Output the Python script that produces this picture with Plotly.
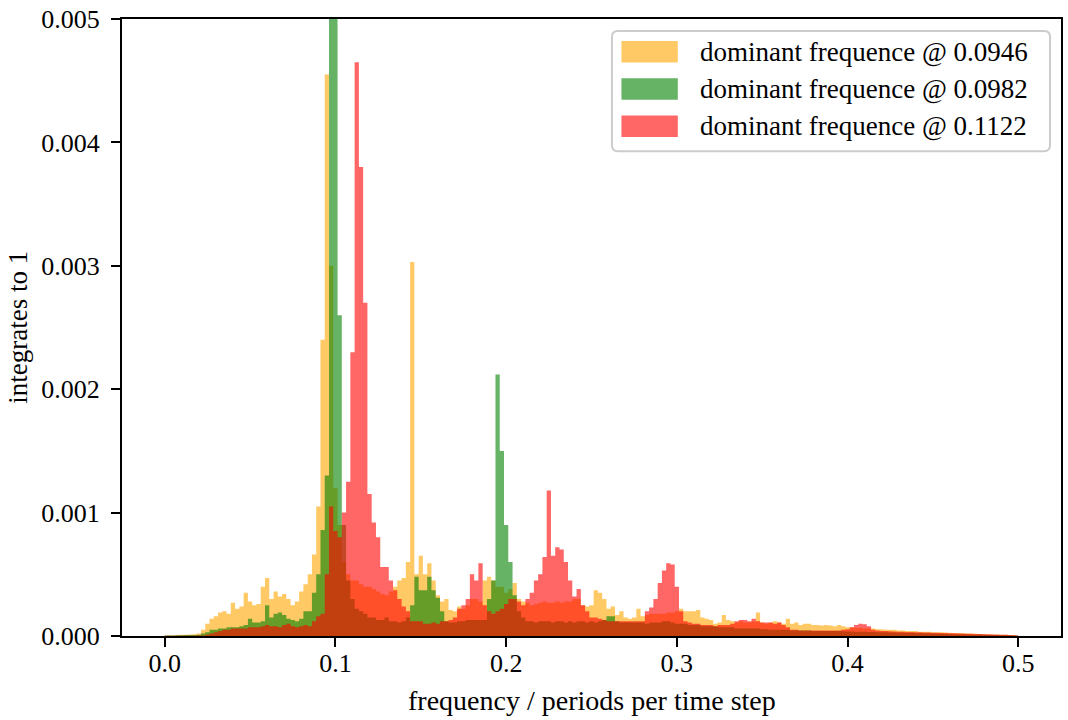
import numpy as np
import plotly.graph_objects as go

# ---------------- data (spectral density, in units of 1e-3) ----------------
FREQ_STEP = 0.0025
freq = np.round(np.arange(201) * FREQ_STEP, 4)   # 0.0 ... 0.5

orange_e3 = [
    0.005, 0.005, 0.005, 0.008, 0.01, 0.01, 0.012, 0.015, 0.02, 0.05,
    0.10, 0.14, 0.16, 0.19, 0.20, 0.18, 0.27, 0.22, 0.24, 0.35,
    0.28, 0.25, 0.26, 0.40, 0.47, 0.30, 0.36, 0.32, 0.34, 0.30,
    0.25, 0.28, 0.36, 0.42, 0.50, 0.66, 1.05, 2.40, 4.55, 3.00,
    1.20, 0.90, 0.60, 0.50, 0.45, 0.45, 0.42, 0.40, 0.40, 0.38,
    0.36, 0.34, 0.33, 0.36, 0.40, 0.45, 0.47, 0.60, 3.03, 0.50,
    0.65, 0.50, 0.59, 0.45, 0.33, 0.28, 0.30, 0.21, 0.20, 0.24,
    0.22, 0.25, 0.30, 0.30, 0.28, 0.45, 0.48, 0.45, 0.40, 0.40,
    0.35, 0.38, 0.43, 0.30, 0.28, 0.27, 0.25, 0.26, 0.27, 0.28,
    0.27, 0.27, 0.28, 0.27, 0.28, 0.28, 0.30, 0.30, 0.25, 0.24,
    0.25, 0.37, 0.35, 0.30, 0.22, 0.24, 0.17, 0.20, 0.15, 0.14,
    0.15, 0.22, 0.16, 0.17, 0.18, 0.18, 0.18, 0.18, 0.19, 0.19,
    0.20, 0.22, 0.20, 0.20, 0.20, 0.21, 0.15, 0.14, 0.13, 0.10,
    0.11, 0.17, 0.13, 0.12, 0.11, 0.12, 0.11, 0.11, 0.12, 0.19,
    0.11, 0.10, 0.11, 0.12, 0.11, 0.10, 0.14, 0.10, 0.11, 0.09,
    0.10, 0.10, 0.09, 0.09, 0.085, 0.09, 0.085, 0.08, 0.09, 0.08,
    0.07, 0.07, 0.065, 0.065, 0.06, 0.06, 0.06, 0.055, 0.055, 0.05,
    0.05, 0.05, 0.045, 0.045, 0.04, 0.04, 0.04, 0.035, 0.035, 0.035,
    0.03, 0.03, 0.03, 0.028, 0.026, 0.025, 0.024, 0.022, 0.02, 0.02,
    0.018, 0.016, 0.015, 0.013, 0.012, 0.011, 0.01, 0.01, 0.008, 0.006,
    0.004,
]

green_e3 = [
    0.005, 0.005, 0.005, 0.006, 0.007, 0.008, 0.008, 0.009, 0.01, 0.02,
    0.03, 0.05, 0.05, 0.06, 0.06, 0.07, 0.07, 0.07, 0.08, 0.09,
    0.14, 0.11, 0.11, 0.12, 0.25, 0.15, 0.18, 0.19, 0.17, 0.14,
    0.13, 0.12, 0.14, 0.20, 0.20, 0.35, 0.50, 0.86, 1.30, 5.60,
    5.60, 2.60, 0.90, 0.45, 0.30, 0.22, 0.20, 0.18, 0.15, 0.15,
    0.13, 0.13, 0.15, 0.12, 0.12, 0.11, 0.12, 0.15, 0.25, 0.48,
    0.37, 0.37, 0.48, 0.37, 0.31, 0.20, 0.12, 0.11, 0.11, 0.12,
    0.12, 0.13, 0.13, 0.13, 0.13, 0.13, 0.30, 0.45, 2.12, 1.50,
    0.90, 0.60, 0.33, 0.20, 0.15, 0.12, 0.12, 0.11, 0.12, 0.12,
    0.12, 0.11, 0.12, 0.12, 0.11, 0.12, 0.11, 0.12, 0.12, 0.11,
    0.12, 0.11, 0.12, 0.13, 0.16, 0.16, 0.12, 0.11, 0.11, 0.11,
    0.11, 0.11, 0.11, 0.10, 0.11, 0.11, 0.11, 0.12, 0.12, 0.11,
    0.10, 0.10, 0.10, 0.09, 0.09, 0.09, 0.08, 0.08, 0.08, 0.08,
    0.07, 0.07, 0.07, 0.07, 0.06, 0.06, 0.06, 0.06, 0.06, 0.06,
    0.055, 0.055, 0.05, 0.05, 0.05, 0.05, 0.05, 0.045, 0.045, 0.045,
    0.045, 0.045, 0.04, 0.04, 0.04, 0.04, 0.04, 0.04, 0.04, 0.038,
    0.037, 0.036, 0.035, 0.035, 0.034, 0.033, 0.032, 0.031, 0.03, 0.03,
    0.029, 0.028, 0.027, 0.026, 0.025, 0.025, 0.024, 0.023, 0.022, 0.021,
    0.02, 0.019, 0.018, 0.017, 0.016, 0.015, 0.014, 0.013, 0.012, 0.011,
    0.011, 0.01, 0.01, 0.009, 0.008, 0.008, 0.007, 0.006, 0.005, 0.004,
    0.003,
]

red_e3 = [
    0.003, 0.003, 0.003, 0.003, 0.003, 0.003, 0.003, 0.003, 0.004, 0.005,
    0.01, 0.02, 0.03, 0.04, 0.05, 0.05, 0.06, 0.06, 0.06, 0.06,
    0.07, 0.07, 0.07, 0.08, 0.09, 0.08, 0.08, 0.07, 0.09, 0.10,
    0.08, 0.07, 0.08, 0.09, 0.08, 0.12, 0.16, 0.18, 0.50, 1.05,
    0.85, 0.80, 1.00, 1.25, 2.30, 4.65, 3.80, 2.70, 1.15, 0.92,
    0.80, 0.56, 0.56, 0.45, 0.37, 0.30, 0.24, 0.20, 0.12, 0.12,
    0.12, 0.10, 0.10, 0.11, 0.10, 0.12, 0.12, 0.13, 0.15, 0.22,
    0.25, 0.30, 0.50, 0.45, 0.59, 0.25, 0.20, 0.18, 0.20, 0.22,
    0.26, 0.30, 0.30, 0.28, 0.25, 0.30, 0.35, 0.45, 0.50, 0.64,
    1.18, 0.65, 0.72, 0.70, 0.60, 0.45, 0.32, 0.38, 0.25, 0.20,
    0.15, 0.15, 0.14, 0.13, 0.12, 0.12, 0.12, 0.12, 0.12, 0.12,
    0.12, 0.12, 0.12, 0.20, 0.23, 0.30, 0.43, 0.53, 0.59, 0.58,
    0.40, 0.20, 0.12, 0.11, 0.10, 0.10, 0.09, 0.09, 0.09, 0.08,
    0.09, 0.09, 0.09, 0.10, 0.12, 0.13, 0.13, 0.12, 0.14, 0.12,
    0.11, 0.11, 0.11, 0.10, 0.11, 0.09, 0.07, 0.05, 0.05, 0.045,
    0.045, 0.045, 0.045, 0.045, 0.045, 0.045, 0.045, 0.045, 0.045, 0.05,
    0.055, 0.07, 0.09, 0.10, 0.095, 0.08, 0.05, 0.045, 0.04, 0.04,
    0.038, 0.036, 0.035, 0.034, 0.033, 0.032, 0.031, 0.03, 0.029, 0.028,
    0.027, 0.026, 0.025, 0.024, 0.023, 0.022, 0.021, 0.02, 0.019, 0.018,
    0.017, 0.016, 0.015, 0.014, 0.013, 0.012, 0.011, 0.01, 0.008, 0.006,
    0.004,
]

series_labels = [
    "dominant frequence @ 0.0946",
    "dominant frequence @ 0.0982",
    "dominant frequence @ 0.1122",
]
series_colors = ["rgba(255,165,0,0.6)", "rgba(0,128,0,0.6)", "rgba(255,0,0,0.6)"]

x_tick_vals = [0.0, 0.1, 0.2, 0.3, 0.4, 0.5]
x_tick_text = ["0.0", "0.1", "0.2", "0.3", "0.4", "0.5"]
y_tick_vals = [0.0, 0.001, 0.002, 0.003, 0.004, 0.005]
y_tick_text = ["0.000", "0.001", "0.002", "0.003", "0.004", "0.005"]

x_title = "frequency / periods per time step"
y_title = "integrates to 1"

for s in (orange_e3, green_e3, red_e3):
    assert len(s) == len(freq)

# ---------------- layout geometry (pixels) ----------------
W, H = 1068, 720
L, R, T, B = 122, 1063, 15, 636
FONT = "Liberation Serif"
FS = 26


def px_x(px):
    return (px - L) / (R - L)


def px_y(py):
    return (B - py) / (B - T)


fig = go.Figure()
for vals, name, col in zip((orange_e3, green_e3, red_e3), series_labels, series_colors):
    fig.add_trace(go.Scatter(
        x=freq, y=np.array(vals) * 1e-3, mode="lines", name=name,
        line=dict(width=0, shape="hvh"), fill="tozeroy", fillcolor=col,
        showlegend=False, hoverinfo="skip",
    ))

axis_common = dict(
    showline=True, linecolor="black", linewidth=2, mirror=True,
    ticks="outside", ticklen=9, tickwidth=2, tickcolor="black",
    showgrid=False, zeroline=False,
    tickfont=dict(family=FONT, size=FS, color="black"),
)
fig.update_xaxes(range=[-0.025, 0.525], tickvals=x_tick_vals, ticktext=x_tick_text,
                 ticklabelstandoff=-6, **axis_common)
fig.update_yaxes(range=[0, 0.005], tickvals=y_tick_vals, ticktext=y_tick_text,
                 ticklabelstandoff=6, **axis_common)

annotations = [
    dict(text=x_title, xref="paper", yref="paper", x=px_x(593), y=px_y(701),
         xanchor="center", yanchor="middle", showarrow=False,
         font=dict(family=FONT, size=28, color="black")),
    dict(text=y_title, xref="paper", yref="paper", x=px_x(17), y=0.5,
         xanchor="center", yanchor="middle", textangle=-90, showarrow=False,
         font=dict(family=FONT, size=27, color="black")),
]

# custom legend (matplotlib style)
bx0, bx1, by0, by1, rad = 613, 1052, 27, 148, 6
x0, x1 = px_x(bx0), px_x(bx1)
y0, y1 = px_y(by1), px_y(by0)
rx, ry = rad / (R - L), rad / (B - T)
path = (f"M {x0+rx},{y0} L {x1-rx},{y0} Q {x1},{y0} {x1},{y0+ry} "
        f"L {x1},{y1-ry} Q {x1},{y1} {x1-rx},{y1} L {x0+rx},{y1} "
        f"Q {x0},{y1} {x0},{y1-ry} L {x0},{y0+ry} Q {x0},{y0} {x0+rx},{y0} Z")
shapes = [dict(type="path", path=path, xref="paper", yref="paper",
               line=dict(color="#cccccc", width=2), fillcolor="rgba(255,255,255,0.8)",
               layer="above")]
row_centers = [48, 85.5, 123]
for yc, name, col in zip(row_centers, series_labels, series_colors):
    shapes.append(dict(type="rect", xref="paper", yref="paper",
                       x0=px_x(622.5), x1=px_x(679), y0=px_y(yc + 10.8), y1=px_y(yc - 10.8),
                       line=dict(width=0), fillcolor=col, layer="above"))
    annotations.append(dict(text=name, xref="paper", yref="paper", x=px_x(699), y=px_y(yc),
                            xanchor="left", yanchor="middle", showarrow=False,
                            font=dict(family=FONT, size=27, color="black")))

fig.update_layout(
    width=W, height=H,
    margin=dict(l=L, r=W - R, t=T, b=H - B, pad=0),
    paper_bgcolor="white", plot_bgcolor="white",
    font=dict(family=FONT, size=FS, color="black"),
    showlegend=False,
    annotations=annotations, shapes=shapes,
)

fig.write_html("out.html")
